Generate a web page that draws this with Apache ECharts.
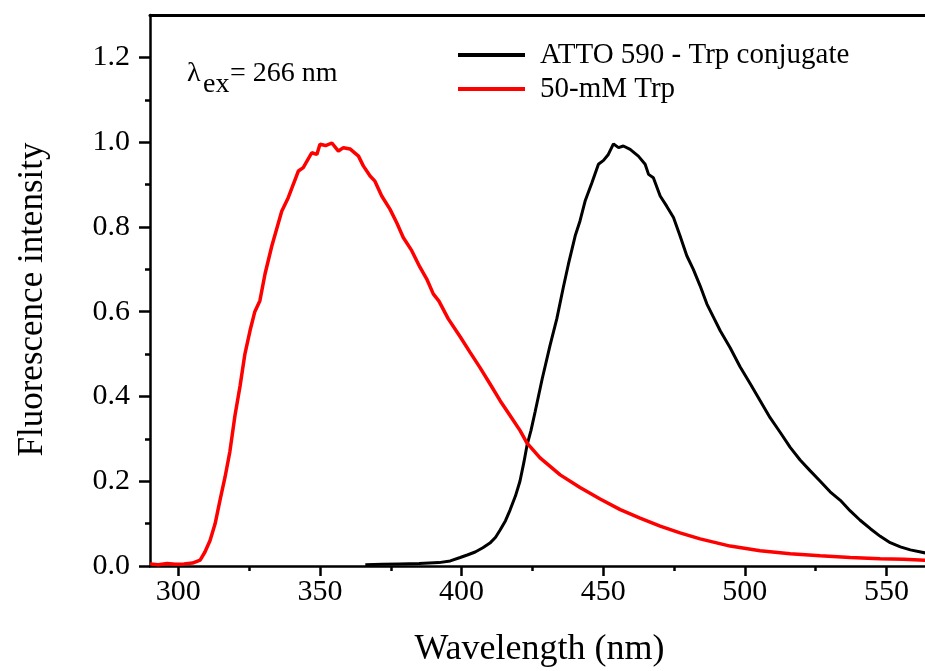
<!DOCTYPE html>
<html>
<head>
<meta charset="utf-8">
<script src="https://cdn.jsdelivr.net/npm/echarts@6/dist/echarts.min.js"></script>
<style>
  html, body { margin: 0; padding: 0; background: #fff; }
  #box { width: 925px; height: 671px; }
</style>
</head>
<body>
<div id="box"></div>
<script>
var xMajor = [300, 350, 400, 450, 500, 550];
var xMinor = [325, 375, 425, 475, 525];
var yMajor = [0, 0.2, 0.4, 0.6, 0.8, 1.0, 1.2];
var yMinor = [0.1, 0.3, 0.5, 0.7, 0.9, 1.1];

// ATTO 590 - Trp conjugate
var conjWl = [366, 372, 378, 385, 392, 396, 399.5, 402, 404.8, 407.5, 410, 412, 413.6, 415.5, 417.1, 419, 420.6, 422, 423.1, 424.5,
  426, 428.4, 431.2, 433.6, 435.9, 437.7, 440.1, 441.8, 443.6, 446, 448.3, 450.1, 451.8, 453.6, 455.4, 457.1, 459.5, 462.4, 464.8, 466,
  467.7, 470.1, 472.4, 474.8, 477.1, 479.5, 481.8, 484.2, 486.6, 488.9, 491.3, 494.8, 498.3, 501.9, 505.4, 508.9, 512.5, 516, 519.5, 523,
  526.6, 530.1, 533.7, 537.2, 540.7, 544.3, 547.8, 551.3, 554.9, 558.4, 565];
var conjI = [0.003, 0.004, 0.005, 0.006, 0.008, 0.012, 0.02, 0.026, 0.033, 0.043, 0.054, 0.068, 0.085, 0.107, 0.132, 0.165, 0.2, 0.245, 0.285, 0.32,
  0.365, 0.44, 0.52, 0.583, 0.657, 0.712, 0.779, 0.814, 0.861, 0.904, 0.948, 0.957, 0.971, 0.996, 0.987, 0.991, 0.983, 0.967, 0.948, 0.924,
  0.916, 0.873, 0.849, 0.822, 0.779, 0.732, 0.7, 0.661, 0.618, 0.587, 0.555, 0.515, 0.47, 0.43, 0.39, 0.35, 0.315, 0.28, 0.25, 0.225,
  0.2, 0.175, 0.155, 0.13, 0.108, 0.088, 0.07, 0.055, 0.045, 0.038, 0.029];

// 50-mM Trp
var trpWl = [290, 293, 296, 299, 302, 305, 307.7, 309.4, 311.2, 313, 314.7, 316.5, 318.2, 320, 321.8, 323.5, 325.3, 327, 328.8, 330.6,
  333, 336.5, 338.8, 342.4, 344.1, 347.1, 348.9, 350, 352, 354.2, 356.5, 358.3, 360.6, 363.6, 365.3, 367.7, 369.4, 371.8, 374.7, 377.1,
  379.4, 382.4, 385.3, 387.7, 390, 392, 395.3, 399.5, 403, 406.5, 410, 413.6, 417.1, 420.6, 423.1, 427.7, 434.8, 441.8, 448.9, 456,
  463, 470.1, 477.1, 484.2, 494.8, 505.4, 516, 526.6, 537.2, 547.8, 556, 565];
var trpI = [0.005, 0.003, 0.006, 0.004, 0.005, 0.007, 0.014, 0.033, 0.06, 0.1, 0.155, 0.21, 0.27, 0.355, 0.425, 0.5, 0.555, 0.6, 0.626, 0.689,
  0.755, 0.837, 0.869, 0.932, 0.94, 0.975, 0.971, 0.995, 0.992, 0.998, 0.979, 0.987, 0.984, 0.967, 0.944, 0.92, 0.908, 0.873, 0.842, 0.81,
  0.775, 0.744, 0.705, 0.677, 0.642, 0.625, 0.583, 0.541, 0.504, 0.468, 0.43, 0.39, 0.355, 0.32, 0.29, 0.255, 0.215, 0.185, 0.158, 0.133,
  0.113, 0.094, 0.078, 0.064, 0.047, 0.036, 0.029, 0.024, 0.02, 0.017, 0.016, 0.013];

function pairs(xs, ys) {
  return xs.map(function (x, i) { return [x, ys[i]]; });
}

var serif = '"Liberation Serif", "DejaVu Serif", serif';
var chart = echarts.init(document.getElementById('box'));

option = {
  backgroundColor: '#fff',
  animation: false,
  grid: { left: 150, top: 15, right: -4, bottom: 105, outerBoundsMode: 'none' },
  legend: {
    orient: 'vertical',
    left: 453,
    top: 35,
    icon: 'rect',
    itemWidth: 67,
    itemHeight: 4,
    itemGap: 4,
    textStyle: { fontFamily: serif, fontSize: 29, color: '#000', lineHeight: 30, padding: [0, 0, 0, 10] },
    data: ['ATTO 590 - Trp conjugate', '50-mM Trp']
  },
  xAxis: [{
    type: 'value',
    min: 290,
    max: 565,
    name: 'Wavelength (nm)',
    nameLocation: 'middle',
    nameGap: 66,
    nameTextStyle: { fontFamily: serif, fontSize: 36, color: '#000' },
    axisLine: { lineStyle: { color: '#000', width: 2.5 } },
    axisTick: { length: 10, lineStyle: { color: '#000', width: 2.5 }, customValues: xMajor },
    axisLabel: { fontFamily: serif, fontSize: 30, color: '#000', margin: 11, customValues: xMajor },
    splitLine: { show: false }
  }, {
    type: 'value',
    min: 290,
    max: 565,
    position: 'bottom',
    axisLine: { show: false },
    axisTick: { length: 5, lineStyle: { color: '#000', width: 2.5 }, customValues: xMinor },
    axisLabel: { show: false },
    splitLine: { show: false }
  }, {
    type: 'value',
    min: 290,
    max: 565,
    position: 'top',
    axisLine: { lineStyle: { color: '#000', width: 3 } },
    axisTick: { show: false },
    axisLabel: { show: false },
    splitLine: { show: false }
  }],
  yAxis: [{
    type: 'value',
    min: 0,
    max: 1.3,
    name: 'Fluorescence intensity',
    nameLocation: 'middle',
    nameGap: 100,
    nameTextStyle: { fontFamily: serif, fontSize: 35, color: '#000', padding: [0, 18, 0, 0] },
    axisLine: { lineStyle: { color: '#000', width: 2.5 } },
    axisTick: { length: 11, lineStyle: { color: '#000', width: 2.5 }, customValues: yMajor },
    axisLabel: {
      fontFamily: serif, fontSize: 30, color: '#000', margin: 20, customValues: yMajor,
      formatter: function (v) { return v.toFixed(1); }
    },
    splitLine: { show: false }
  }, {
    type: 'value',
    min: 0,
    max: 1.3,
    position: 'left',
    axisLine: { show: false },
    axisTick: { length: 5, lineStyle: { color: '#000', width: 2.5 }, customValues: yMinor },
    axisLabel: { show: false },
    splitLine: { show: false }
  }],
  graphic: [
    { type: 'text', left: 187, top: 60, style: { text: 'λ', font: '28px ' + serif, fill: '#000' } },
    { type: 'text', left: 203, top: 71, style: { text: 'ex', font: '28px ' + serif, fill: '#000' } },
    { type: 'text', left: 230, top: 60, style: { text: '= 266 nm', font: '28px ' + serif, fill: '#000' } }
  ],
  series: [{
    name: 'ATTO 590 - Trp conjugate',
    type: 'line',
    showSymbol: false,
    itemStyle: { color: '#000' },
    lineStyle: { color: '#000', width: 3 },
    data: pairs(conjWl, conjI)
  }, {
    name: '50-mM Trp',
    type: 'line',
    showSymbol: false,
    itemStyle: { color: '#ff0000' },
    lineStyle: { color: '#ff0000', width: 3.5 },
    data: pairs(trpWl, trpI)
  }]
};

chart.setOption(option);
</script>
</body>
</html>
